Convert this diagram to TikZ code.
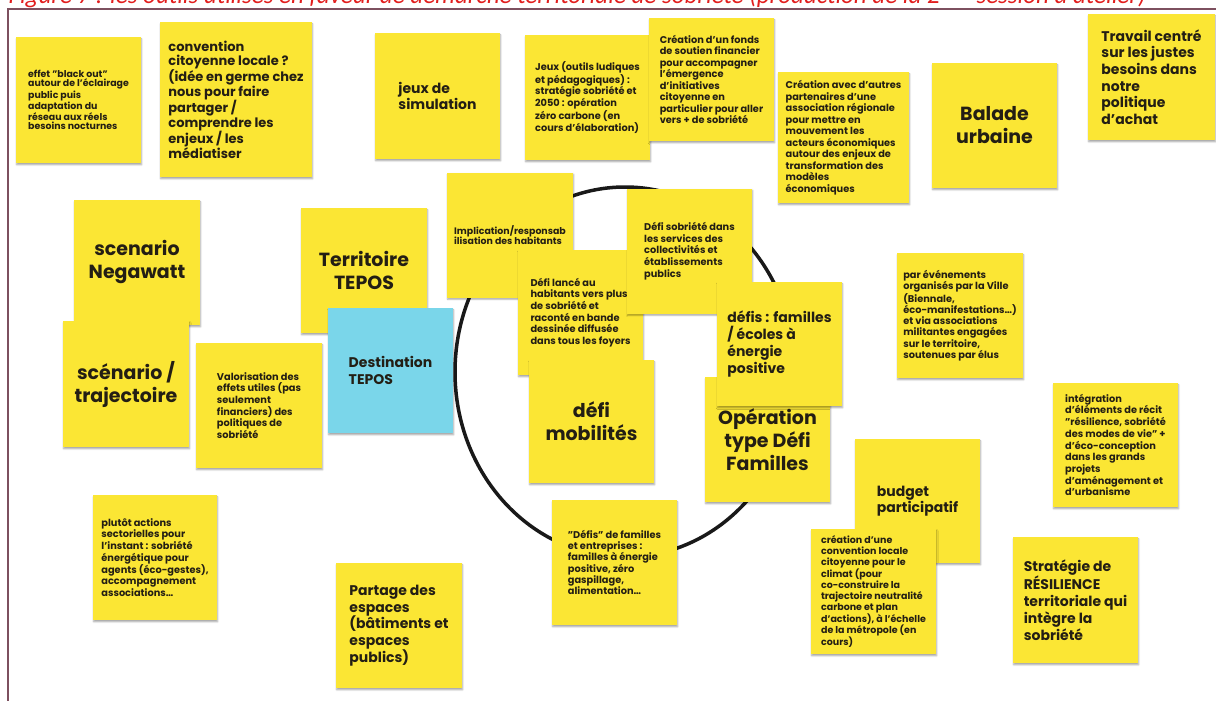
\documentclass[tikz,border=0pt]{standalone}
\usepackage{fontspec}
\setmainfont{Poppins}
\newfontfamily\capfont{Carlito}
\usetikzlibrary{shadows.blur}
\definecolor{notey}{RGB}{251,230,52}
\definecolor{notecyan}{RGB}{122,214,234}
\definecolor{notetext}{RGB}{35,30,20}
\definecolor{framecol}{RGB}{125,80,95}
\definecolor{caprred}{RGB}{225,30,30}

\tikzset{
  note/.style={fill=notey, minimum width=125pt, minimum height=125pt, inner sep=0pt,
    text=notetext, align=left,
    blur shadow={shadow xshift=0.6pt, shadow yshift=-1.8pt, shadow blur radius=1.6pt, shadow opacity=35}},
  txtS/.style={font=\fontsize{9.8}{11.5}\selectfont\bfseries},
  txtM/.style={font=\fontsize{14}{16.7}\selectfont\bfseries},
  txtL/.style={font=\fontsize{19}{23}\selectfont\bfseries, align=center},
}

\begin{document}
\begin{tikzpicture}[x=1pt, y=-1pt]
\useasboundingbox (0,0) rectangle (1216,701);

% ============================
\node (caption) [anchor=base west, text=caprred, font=\capfont\itshape\fontsize{25}{25}\selectfont]
    at (5,4) {Figure 7 : les outils utilisés en faveur de démarche territoriale de sobriété (production de la 2\textsuperscript{ème} session d'atelier)};
\draw[framecol, line width=2pt] (8,701) -- (8,9) -- (1216,9);

% ============================
\draw[black!90, line width=3.5pt] (625,372) ellipse [x radius=170pt, y radius=185pt];

% ============================ top row
\node (blackout) [note, minimum height=126pt, font=\fontsize{9.4}{9}\selectfont\bfseries] at (78.5,100)
    {effet "black out"\\autour de l'éclairage\\public puis\\adaptation du\\réseau aux réels\\besoins nocturnes};

\node (convention) [note, minimum width=152pt, minimum height=155pt, font=\fontsize{13}{14.3}\selectfont\bfseries] at (236,99.5)
    {convention\\citoyenne locale ?\\(idée en germe chez\\nous pour faire\\partager /\\comprendre les\\enjeux / les\\médiatiser};

\node (simulation) [note, minimum height=126pt, font=\fontsize{14}{16}\selectfont\bfseries] at (437.5,96)
    {jeux de\\simulation};

\node (jeuxoutils) [note, font=\fontsize{9.8}{10.6}\selectfont\bfseries] at (587.5,97.5)
    {Jeux (outils ludiques\\et pédagogiques) :\\stratégie sobriété et\\2050 : opération\\zéro carbone (en\\cours d'élaboration)};

\node (fonds) [note, txtS, minimum height=123pt] at (711.5,79.5)
    {Création d'un fonds\\de soutien financier\\pour accompagner\\l'émergence\\d'initiatives\\citoyenne en\\particulier pour aller\\vers + de sobriété};

\node (association) [note, txtS, minimum width=131pt, minimum height=131pt] at (843.5,137.5)
    {Création avec d'autres\\partenaires d'une\\association régionale\\pour mettre en\\mouvement les\\acteurs économiques\\autour des enjeux de\\transformation des\\modèles\\économiques};

\node (balade) [note, txtL] at (994.5,125.5)
    {Balade\\urbaine};

\node (achat) [note, txtM, minimum width=127pt, minimum height=126pt] at (1151.5,77)
    {Travail centré\\sur les justes\\besoins dans\\notre\\politique\\d'achat};

% ============================ left side
\node (negawatt) [note, txtL, minimum width=126pt] at (137,262.5)
    {scenario\\Negawatt};

\node (trajectoire) [note, txtL, minimum width=126pt, minimum height=126pt] at (126,384)
    {scénario /\\trajectoire};

\node (territoire) [note, txtL, minimum width=126pt] at (364,270.5)
    {Territoire\\TEPOS};

\node (destination) [note, txtM, fill=notecyan] at (390.5,370.5)
    {Destination\\TEPOS};

\node (valorisation) [note, minimum width=126pt, font=\fontsize{9.8}{11.7}\selectfont\bfseries] at (259,405.5)
    {Valorisation des\\effets utiles (pas\\seulement\\financiers) des\\politiques de\\sobriété};

% ============================ inside the circle
\node (implication) [note, minimum width=126pt, font=\fontsize{9.4}{10.7}\selectfont\bfseries] at (510,235)
    {Implication/responsab\\ilisation des habitants};

\node (defilance) [note, font=\fontsize{9.8}{11.7}\selectfont\bfseries] at (580.5,312.5)
    {Défi lancé au\\habitants vers plus\\de sobriété et\\raconté en bande\\dessinée diffusée\\dans tous les foyers};

\node (defiservices) [note, font=\fontsize{9.8}{11.7}\selectfont\bfseries] at (689.5,251)
    {Défi sobriété dans\\les services des\\collectivités et\\établissements\\publics};

\node (mobilites) [note, txtL, minimum height=123pt] at (591.5,421.5)
    {défi\\mobilités};

\node (operation) [note, txtL] at (767.5,439.5)
    {Opération\\type Défi\\Familles};

\node (ecoles) [note, txtM, minimum height=124pt] at (779.5,344)
    {défis : familles\\/ écoles à\\énergie\\positive};

\node (defisfamilles) [note, font=\fontsize{9.8}{11.3}\selectfont\bfseries] at (614.5,562.5)
    {"Défis" de familles\\et entreprises :\\familles à énergie\\positive, zéro\\gaspillage,\\alimentation…};

% ============================ right side
\node (evenements) [note, minimum width=126pt, font=\fontsize{9.8}{11.3}\selectfont\bfseries] at (960,315.5)
    {par événements\\organisés par la Ville\\(Biennale,\\éco-manifestations…)\\et via associations\\militantes engagées\\sur le territoire,\\soutenues par élus};

\node (recit) [note, minimum height=124pt, font=\fontsize{9.8}{11.7}\selectfont\bfseries] at (1115.5,445)
    {intégration\\d'éléments de récit\\"résilience, sobriété\\des modes de vie" +\\d'éco-conception\\dans les grands\\projets\\d'aménagement et\\d'urbanisme};

\node (budget) [note, minimum height=124pt, font=\fontsize{14}{16}\selectfont\bfseries] at (917.5,501)
    {budget\\participatif};

\node (climat) [note, font=\fontsize{9.5}{11}\selectfont\bfseries] at (873.5,591.5)
    {création d'une\\convention locale\\citoyenne pour le\\climat (pour\\co-construire la\\trajectoire neutralité\\carbone et plan\\d'actions), à l'échelle\\de la métropole (en\\cours)};

\node (resilience) [note, txtM, minimum height=126pt] at (1075.5,600)
    {Stratégie de\\RÉSILIENCE\\territoriale qui\\intègre la\\sobriété};

% ============================ bottom left
\node (sectorielles) [note, minimum width=124pt, font=\fontsize{9.8}{11.7}\selectfont\bfseries] at (155,557.5)
    {plutôt actions\\sectorielles pour\\l'instant : sobriété\\énergétique pour\\agents (éco-gestes),\\accompagnement\\associations…};

\node (partage) [note, txtM, minimum width=126pt] at (399,625.5)
    {Partage des\\espaces\\(bâtiments et\\espaces\\publics)};

\end{tikzpicture}
\end{document}
